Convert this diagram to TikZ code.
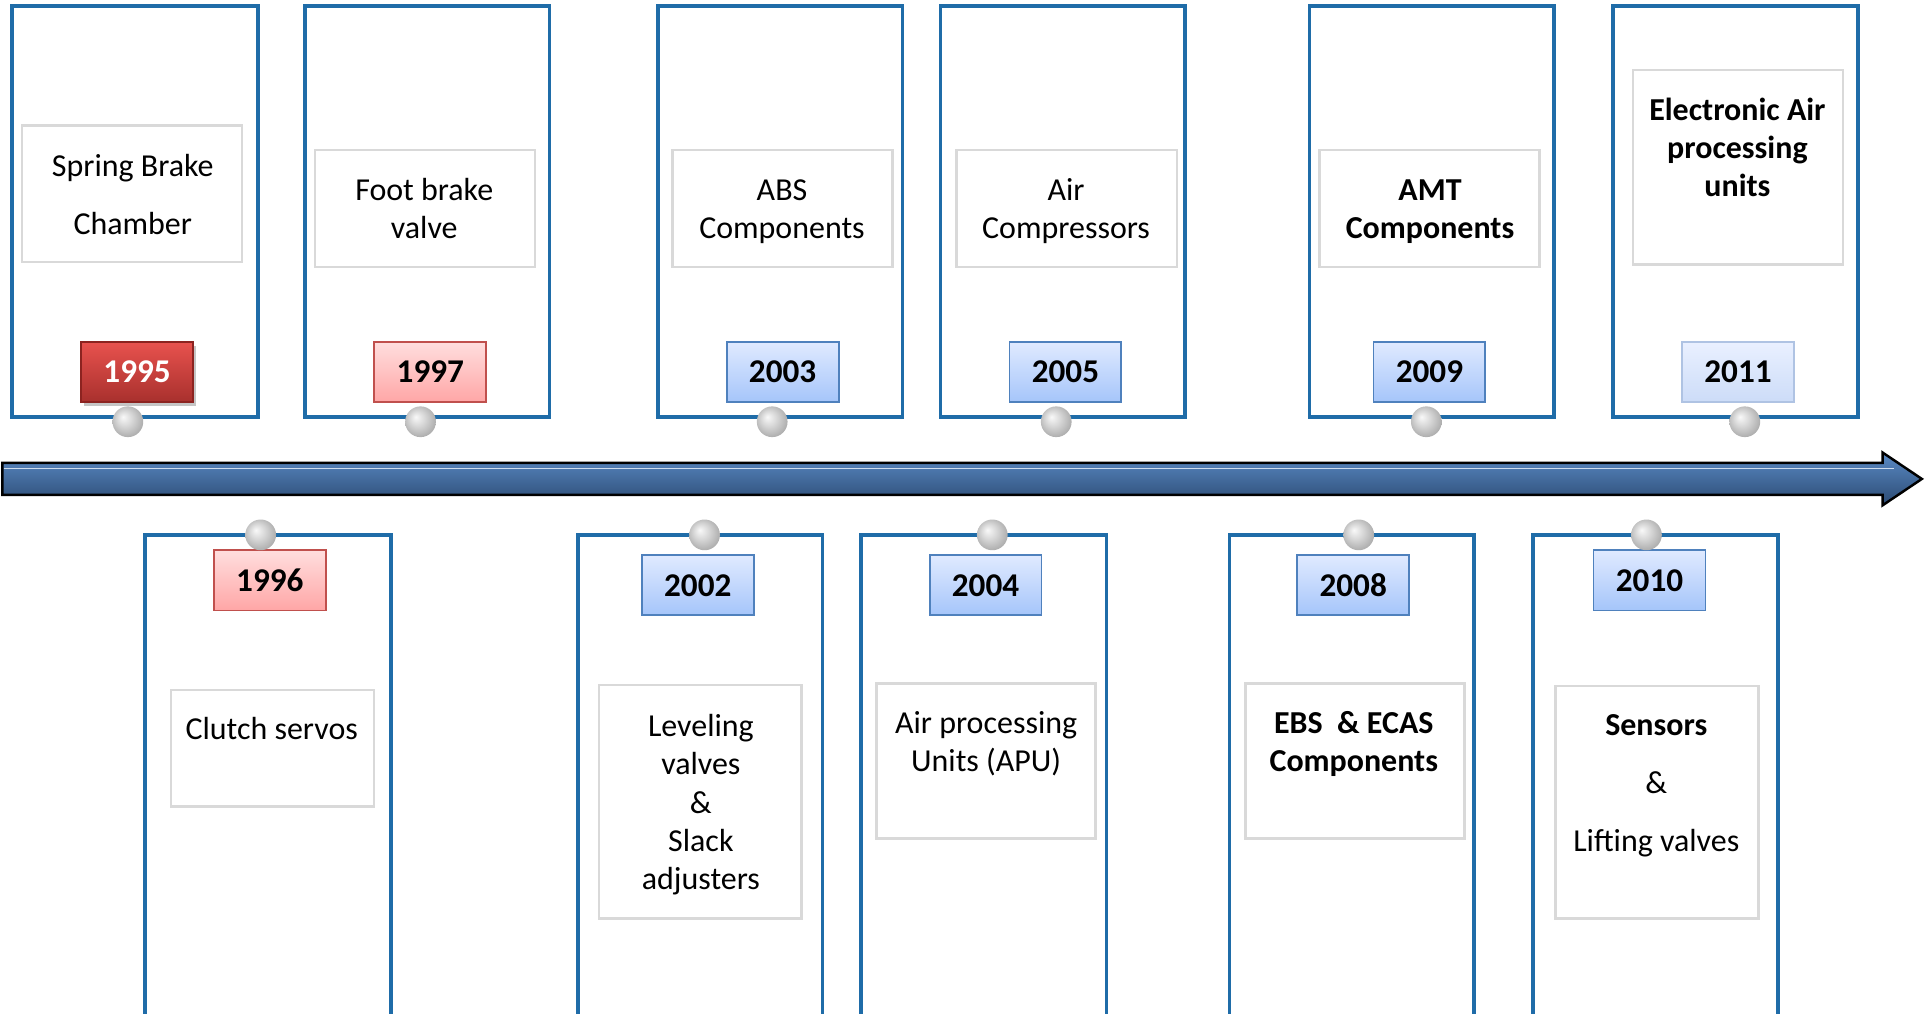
\documentclass[tikz,border=0pt]{standalone}
\usepackage{fontspec}
\setmainfont{Carlito}
\usetikzlibrary{shadows}
\definecolor{boxblue}{HTML}{1F6CA8}
\definecolor{innergray}{HTML}{D9D9D9}
\definecolor{pinkA}{HTML}{FFDEDE}
\definecolor{pinkB}{HTML}{FFA6A6}
\definecolor{pinkE}{HTML}{C0504D}
\definecolor{redA}{HTML}{E8524E}
\definecolor{redB}{HTML}{A8302D}
\definecolor{redE}{HTML}{8C2320}
\definecolor{bluA}{HTML}{E0EAFF}
\definecolor{bluB}{HTML}{A5C5FA}
\definecolor{bluE}{HTML}{4F81BD}
\definecolor{paleA}{HTML}{EAF0FF}
\definecolor{paleB}{HTML}{CCDCF8}
\definecolor{paleE}{HTML}{AFC3E3}
\definecolor{arrA}{HTML}{5B8BC6}
\definecolor{arrB}{HTML}{2B4A72}
\pgfdeclareradialshading{pinshade}{\pgfpoint{-8bp}{8bp}}{%
  color(0bp)=(white!95!gray); color(12bp)=(white!70!gray); color(28bp)=(white!35!gray); color(40bp)=(white!30!gray)}
\tikzset{
  era/.style={draw=boxblue, line width=3pt, fill=white},
  inner/.style={draw=innergray, line width=2pt, fill=white},
  txt/.style={font=\fontsize{26}{31}\selectfont, align=center, inner sep=0pt},
  yearbase/.style={minimum width=91pt, minimum height=49pt, inner sep=0pt,
     font=\fontsize{27}{31}\selectfont\bfseries, line width=1.5pt},
  yred/.style={yearbase, draw=redE, top color=redA, bottom color=redB, text=white,
     drop shadow={shadow xshift=2pt, shadow yshift=-3pt, opacity=0.45}},
  ypink/.style={yearbase, draw=pinkE, top color=pinkA, bottom color=pinkB},
  yblue/.style={yearbase, draw=bluE, top color=bluA, bottom color=bluB},
  ypale/.style={yearbase, draw=paleE, top color=paleA, bottom color=paleB},
  pin/.style={circle, minimum size=25pt, inner sep=0pt, shading=pinshade},
}
\newcommand{\erabox}[5]{% name, x1, y1, x2, y2
  \path (#2,#3) coordinate (#1a) (#4,#5) coordinate (#1b);
  \draw[era] (#1a) rectangle (#1b);}
\newcommand{\innerbox}[5]{%
  \draw[inner] (#2,#3) rectangle (#4,#5);}
\begin{document}
\begin{tikzpicture}[x=1pt,y=-1pt]
\useasboundingbox (0,0) rectangle (1568,824);
\begin{scope}
\clip (0,0) rectangle (1568,824);
% top era boxes
\erabox{e95}{10}{5}{210}{339}
\erabox{e97}{248}{5}{447}{339}
\erabox{e03}{535}{5}{734}{339}
\erabox{e05}{765}{5}{964}{339}
\erabox{e09}{1065}{5}{1264}{339}
\erabox{e11}{1312}{5}{1511}{339}
% bottom era boxes
\erabox{e96}{118}{435}{318}{840}
\erabox{e02}{470}{435}{669}{840}
\erabox{e04}{700}{435}{900}{840}
\erabox{e08}{1000}{435}{1199}{840}
\erabox{e10}{1247}{435}{1446}{840}
% inner boxes top
\innerbox{i95}{18}{102}{197}{213}
\innerbox{i97}{256}{122}{435}{217}
\innerbox{i03}{547}{122}{726}{217}
\innerbox{i05}{778}{122}{957}{217}
\innerbox{i09}{1073}{122}{1252}{217}
\innerbox{i11}{1328}{57}{1499}{215}
% inner boxes bottom
\innerbox{i96}{139}{561}{304}{656}
\innerbox{i02}{487}{557}{652}{747}
\innerbox{i04}{713}{556}{891}{682}
\innerbox{i08}{1013}{556}{1191}{682}
\innerbox{i10}{1265}{558}{1430}{747}
\end{scope}
% texts
\node[txt] (t95) at (108,161) {\strut Spring Brake\\[16pt]\strut Chamber};
\node[txt] (t97) at (345,172) {\strut Foot brake\\\strut valve};
\node[txt] (t03) at (636,172) {\strut ABS\\\strut Components};
\node[txt] (t05) at (867,172) {\strut Air\\\strut Compressors};
\node[txt,font=\fontsize{26}{31}\selectfont\bfseries] (t09) at (1163,172) {\strut AMT\\\strut Components};
\node[txt,font=\fontsize{26}{31}\selectfont\bfseries] (t11) at (1413,123) {\strut Electronic Air\\\strut processing\\\strut units};
\node[txt] (t96) at (221,595) {\strut Clutch servos};
\node[txt] (t02) at (570,655) {\strut Leveling\\\strut valves\\\strut \&\\\strut Slack\\\strut adjusters};
\node[txt] (t04) at (802,606) {\strut Air processing\\\strut Units (APU)};
\node[txt,font=\fontsize{26}{31}\selectfont\bfseries] (t08) at (1101,606) {\strut EBS\ \ \& ECAS\\\strut Components};
\node[txt] (t10) at (1347,639) {\strut\textbf{Sensors}\\[16pt]\strut \&\\[16pt]\strut Lifting valves};
% year labels
\node[yred]  (y95) at (111.5,302.5) {1995};
\node[ypink] (y97) at (350,302.5) {1997};
\node[yblue] (y03) at (636.5,302.5) {2003};
\node[yblue] (y05) at (866.5,302.5) {2005};
\node[yblue] (y09) at (1162.5,302.5) {2009};
\node[ypale] (y11) at (1413.5,302.5) {2011};
\node[ypink] (y96) at (219.5,472) {1996};
\node[yblue] (y02) at (567.5,476) {2002};
\node[yblue] (y04) at (801.5,476) {2004};
\node[yblue] (y08) at (1100.5,476) {2008};
\node[yblue] (y10) at (1341.5,472) {2010};
% timeline arrow
\path (2,389.5) coordinate (ts) (1563,389.5) coordinate (tip);
\draw[line width=2pt, line join=miter, top color=arrA, bottom color=arrB]
  (2,376.5) -- (1531,376.5) -- (1531,368) -- (tip) -- (1531,411) -- (1531,402.5) -- (2,402.5) -- cycle;
\draw[white!70!arrA, line width=1pt] (3,381) -- (1540,381);
% pins
\foreach \n/\x in {95/104,97/342,03/628,05/859,09/1160,11/1419}
  \node[pin] (p\n) at (\x,343) {};
\foreach \n/\x in {96/212,02/573,04/807,08/1105,10/1339}
  \node[pin] (p\n) at (\x,435) {};
\end{tikzpicture}
\end{document}
